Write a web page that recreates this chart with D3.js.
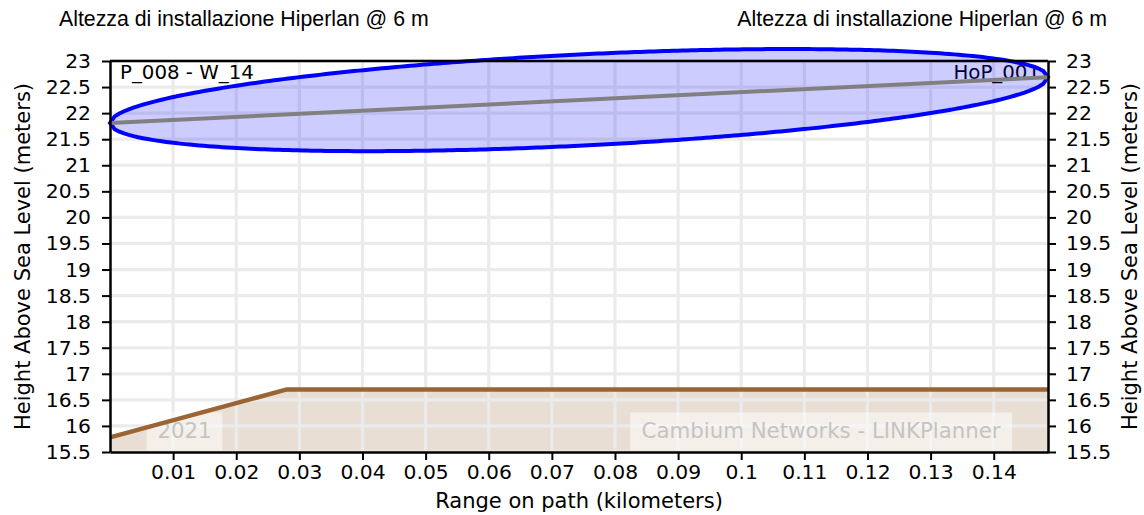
<!DOCTYPE html>
<html><head><meta charset="utf-8">
<script src="https://cdn.jsdelivr.net/npm/d3@7/dist/d3.min.js"></script>
<style>body{margin:0;background:#fff}svg{display:block}</style>
</head><body><svg id="c" width="1144" height="515"></svg>
<script>
// ---- data ----
const titleText = "Altezza di installazione Hiperlan @ 6 m";
const xLabel = "Range on path (kilometers)";
const yLabel = "Height Above Sea Level (meters)";
const xTicks = [0.01,0.02,0.03,0.04,0.05,0.06,0.07,0.08,0.09,0.1,0.11,0.12,0.13,0.14];
const xTickLabels = ["0.01","0.02","0.03","0.04","0.05","0.06","0.07","0.08","0.09","0.1","0.11","0.12","0.13","0.14"];
const yTicks = [15.5,16,16.5,17,17.5,18,18.5,19,19.5,20,20.5,21,21.5,22,22.5,23];
const yTickLabels = ["15.5","16","16.5","17","17.5","18","18.5","19","19.5","20","20.5","21","21.5","22","22.5","23"];
const xDomain = [0, 0.1486];
const yDomain = [15.5, 23];
const terrainDist = [0, 0.028, 0.1486];
const terrainHeight = [15.78, 16.7, 16.7];
const linkDist = [0, 0.1486];
const linkHeight = [21.81, 22.69];
const fresnelMaxRadius = 0.875;
const siteLeft = "P_008 - W_14";
const siteRight = "HoP_001";
const watermarks = ["2021", "Cambium Networks - LINKPlanner"];

// ---- layout ----
const svg = d3.select("#c");
const L = 110, R = 1048, T = 61, B = 452;
const x = d3.scaleLinear().domain(xDomain).range([L, R]);
const y = d3.scaleLinear().domain(yDomain).range([B, T]);
const tickFont = "DejaVu Sans";

// terrain fill
const terr = terrainDist.map((d,i)=>[d, terrainHeight[i]]);
svg.append("path").datum(terr)
  .attr("d", d3.area().x(d=>x(d[0])).y0(y(yDomain[0])).y1(d=>y(d[1])))
  .attr("fill", "rgb(232,222,211)");

// grid
const grid = svg.append("g").attr("stroke", "#ebebeb").attr("stroke-width", 3.2);
grid.selectAll("line.v").data(xTicks).join("line")
  .attr("x1", d=>x(d)).attr("x2", d=>x(d)).attr("y1", T).attr("y2", B);
grid.selectAll("line.h").data(yTicks).join("line")
  .attr("y1", d=>y(d)).attr("y2", d=>y(d)).attr("x1", L).attr("x2", R);

// watermarks
const wm = [
  {t: watermarks[0], x0: 0.0058, x1: 0.0178},
  {t: watermarks[1], x0: 0.0824, x1: 0.1429}
];
wm.forEach(w=>{
  svg.append("rect").attr("x", x(w.x0)).attr("width", x(w.x1)-x(w.x0))
    .attr("y", y(16.26)).attr("height", y(15.53)-y(16.26))
    .attr("fill", "#fff").attr("fill-opacity", 0.5);
  svg.append("text").attr("x", (x(w.x0)+x(w.x1))/2).attr("y", y(15.77))
    .attr("text-anchor", "middle").attr("font-family", tickFont).attr("font-size", 21.3)
    .attr("fill", "#c4c4c4").text(w.t);
});

// site labels
svg.append("text").attr("x", L+10).attr("y", 79).attr("font-family", tickFont)
  .attr("font-size", 19.8).attr("fill", "#000").text(siteLeft);
svg.append("text").attr("x", R-8).attr("y", 79).attr("text-anchor", "end").attr("font-family", tickFont)
  .attr("font-size", 19.8).attr("fill", "#000").text(siteRight);

// fresnel ellipse
const N = 200;
const x0 = linkDist[0], x1 = linkDist[1];
const upper = [], lower = [];
for (let i = 0; i <= N; i++) {
  const u = -1 + 2*i/N;
  const d = x0 + (u+1)/2*(x1-x0);
  const c = linkHeight[0] + (u+1)/2*(linkHeight[1]-linkHeight[0]);
  const r = fresnelMaxRadius*Math.sqrt(Math.max(0, 1-u*u));
  upper.push([d, c + r]);
  lower.push([d, c - r]);
}
const ring = upper.concat(lower.reverse());
svg.append("path").datum(ring)
  .attr("d", d3.line().x(d=>x(d[0])).y(d=>y(d[1])).curve(d3.curveLinearClosed))
  .attr("fill", "rgba(0,0,255,0.2)").attr("stroke", "#0000ff").attr("stroke-width", 4);

// link line
svg.append("path").datum(linkDist.map((d,i)=>[d, linkHeight[i]]))
  .attr("d", d3.line().x(d=>x(d[0])).y(d=>y(d[1])))
  .attr("fill", "none").attr("stroke", "#808080").attr("stroke-width", 4);

// terrain line
svg.append("path").datum(terr)
  .attr("d", d3.line().x(d=>x(d[0])).y(d=>y(d[1])))
  .attr("fill", "none").attr("stroke", "#9a6434").attr("stroke-width", 4.5);

// axes
function styleAxis(g) {
  g.selectAll("path").attr("stroke", "#000").attr("stroke-width", 2.5);
  g.selectAll("line").attr("stroke", "#000").attr("stroke-width", 2);
  g.selectAll("text").attr("font-family", tickFont).attr("font-size", 20.3).attr("fill", "#000");
}
const xAxis = svg.append("g").attr("transform", `translate(0,${B})`)
  .call(d3.axisBottom(x).tickValues(xTicks).tickFormat((d,i)=>xTickLabels[i]).tickSize(8).tickPadding(5).tickSizeOuter(0));
styleAxis(xAxis);
const yAxisL = svg.append("g").attr("transform", `translate(${L},0)`)
  .call(d3.axisLeft(y).tickValues(yTicks).tickFormat((d,i)=>yTickLabels[i]).tickSize(8).tickPadding(11).tickSizeOuter(0));
styleAxis(yAxisL);
const yAxisR = svg.append("g").attr("transform", `translate(${R},0)`)
  .call(d3.axisRight(y).tickValues(yTicks).tickFormat((d,i)=>yTickLabels[i]).tickSize(8).tickPadding(10).tickSizeOuter(0));
styleAxis(yAxisR);
svg.append("line").attr("x1", L).attr("x2", R).attr("y1", T).attr("y2", T)
  .attr("stroke", "#000").attr("stroke-width", 2.5);

// axis titles
svg.append("text").attr("x", (L+R)/2).attr("y", 508).attr("text-anchor", "middle")
  .attr("font-family", tickFont).attr("font-size", 21).text(xLabel);
svg.append("text").attr("transform", `translate(30,${(T+B)/2}) rotate(-90)`).attr("text-anchor", "middle")
  .attr("font-family", tickFont).attr("font-size", 21).text(yLabel);
svg.append("text").attr("transform", `translate(1137,${(T+B)/2}) rotate(-90)`).attr("text-anchor", "middle")
  .attr("font-family", tickFont).attr("font-size", 21).text(yLabel);

// titles
svg.append("text").attr("x", 59).attr("y", 26).attr("font-family", "Liberation Sans")
  .attr("font-size", 21.3).text(titleText);
svg.append("text").attr("x", 1107).attr("y", 26).attr("text-anchor", "end").attr("font-family", "Liberation Sans")
  .attr("font-size", 21.3).text(titleText);
</script></body></html>
